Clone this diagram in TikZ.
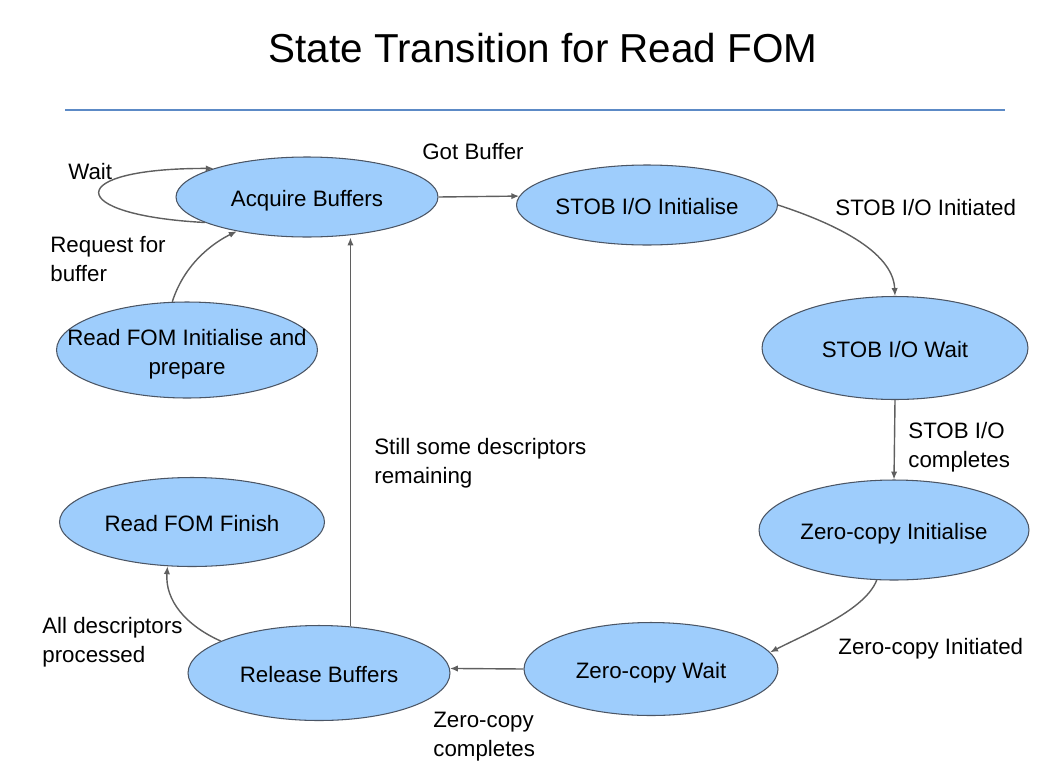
\documentclass[tikz,border=0pt]{standalone}
\usepackage{fontspec}
\setmainfont{Liberation Sans}
\usetikzlibrary{arrows.meta}
\usetikzlibrary{shapes.geometric}

\definecolor{statefill}{RGB}{158,205,252}
\definecolor{stateline}{RGB}{75,85,100}
\definecolor{titleline}{RGB}{92,138,198}
\definecolor{edgegray}{RGB}{95,95,95}

\begin{document}
\begin{tikzpicture}[x=0.02cm,y=-0.02cm,
  state/.style={ellipse,draw=stateline,fill=statefill,line width=0.6pt,inner sep=0pt,
    align=center,text height=13.8pt,text depth=2.7pt,font=\fontsize{12.7}{16.5}\selectfont},
  lbl/.style={inner sep=0pt,align=left,font=\fontsize{12.7}{16.5}\selectfont},
  arr/.style={edgegray,line width=0.8pt,-{Latex[length=4.5pt,width=3.6pt]}}]
\useasboundingbox (0,0) rectangle (1060,781);

%title
\node[inner sep=0pt,font=\fontsize{23}{28}\selectfont] (title) at (543,48) {State Transition for Read FOM};
\draw[titleline,line width=1.7pt] (65,110) -- (1005,110);

%states
\node[state,minimum width=5.24cm,minimum height=1.6cm] (acq) at (307,197) {Acquire Buffers};
\node[state,minimum width=5.22cm,minimum height=1.6cm] (stobinit) at (647,205) {STOB I/O Initialise};
\node[state,minimum width=5.32cm,minimum height=2.06cm] (stobwait) at (895,348) {STOB I/O Wait};
\node[state,minimum width=5.22cm,minimum height=1.92cm,inner xsep=-0.7cm,text height=30.3pt] (fominit) at (187,350) {Read FOM Initialise and\\prepare};
\node[state,minimum width=5.3cm,minimum height=1.78cm] (fomfin) at (192,522) {Read FOM Finish};
\node[state,minimum width=5.4cm,minimum height=2.0cm] (zcinit) at (894,530) {Zero-copy Initialise};
\node[state,minimum width=5.08cm,minimum height=1.86cm] (zcwait) at (651,669) {Zero-copy Wait};
\node[state,minimum width=5.24cm,minimum height=1.9cm] (rel) at (319,673) {Release Buffers};

%transitions
\draw[arr] (acq.194) .. controls (63,215) and (63,168) .. (acq.163);
\draw[arr] (fominit.107) .. controls (185,262) and (215,242) .. (acq.206);
\draw[arr] (acq.east) -- (stobinit.176);
\draw[arr] (stobinit.east) .. controls (830,222) and (893,250) .. (stobwait.north);
\draw[arr] (stobwait.south) -- (zcinit.north);
\draw[arr] (zcinit.251) .. controls (865,610) and (810,632) .. (zcwait.8);
\draw[arr] (zcwait.west) -- (rel.2);
\draw[arr] (rel.56) -- (rel.56 |- acq.south);
\draw[arr] (rel.162) .. controls (185,625) and (165,600) .. (fomfin.241);

%labels
\node[lbl,anchor=west] (wait) at (68,172) {Wait};
\node[lbl,anchor=west] (request) at (50,259) {Request for\\buffer};
\node[lbl] (gotbuf) at (473,152) {Got Buffer};
\node[lbl,anchor=west] (stobstarted) at (835,208) {STOB I/O Initiated};
\node[lbl,anchor=west] (stobdone) at (908,447) {STOB I/O\\completes};
\node[lbl,anchor=west] (zcstarted) at (838,649) {Zero-copy Initiated};
\node[lbl,anchor=west] (zcdone) at (433,737) {Zero-copy\\completes};
\node[lbl,anchor=west] (remaining) at (374,463) {Still some descriptors\\remaining};
\node[lbl,anchor=west] (processed) at (42,642) {All descriptors\\processed};

\end{tikzpicture}
\end{document}
